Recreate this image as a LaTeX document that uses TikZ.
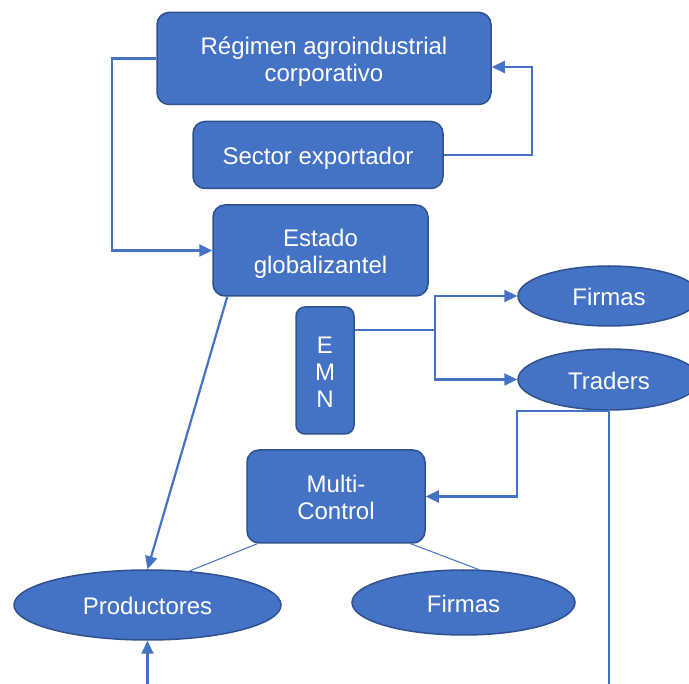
\documentclass[tikz,border=0pt]{standalone}
\usepackage{fontspec}
\setmainfont{Liberation Sans}
\usetikzlibrary{arrows.meta,shapes.geometric}
\definecolor{boxfill}{HTML}{4472C4}
\definecolor{boxline}{HTML}{2F528F}
% centred label block, lowered slightly inside its shape
\newcommand{\lbl}[1]{\raisebox{-10.5pt}[0pt][0pt]{\begin{tabular}{@{}c@{}}#1\end{tabular}}}
\begin{document}
\begin{tikzpicture}[x=1pt,y=-1pt,
  base/.style={fill=boxfill,draw=boxline,line width=1.5pt,text=white,inner sep=0pt,
    font=\fontsize{24}{27}\selectfont},
  box/.style={base,rectangle,rounded corners=12pt},
  oval/.style={base,ellipse},
  conn/.style={draw=boxfill,line width=2.2pt},
  arr/.style={conn,-{Triangle[length=13pt,width=12pt]}},
  thin/.style={draw=boxfill,line width=1pt}]
\clip (0,0) rectangle (689,684);
\fill[white] (0,0) rectangle (689,684);

% boxes
\node[box,minimum width=334pt,minimum height=92pt] (reg) at (324,58.5) {\lbl{Régimen agroindustrial\\corporativo}};
\node[box,minimum width=250pt,minimum height=67pt] (sec) at (318,155) {\lbl{Sector exportador}};
\node[box,minimum width=215pt,minimum height=91pt] (est) at (320.5,250.5) {\lbl{Estado\\globalizantel}};
\node[box,minimum width=58pt,minimum height=127pt,rounded corners=9pt] (emn) at (325,370.5) {\lbl{E\\M\\N}};
\node[box,minimum width=178pt,minimum height=93pt] (mc) at (336,496.5) {\lbl{Multi-\\Control}};

% ellipses
\node[oval,minimum width=182pt,minimum height=60pt] (f1) at (609,296) {\lbl{Firmas}};
\node[oval,minimum width=182pt,minimum height=61pt] (tr) at (609,379.5) {\lbl{Traders}};
\node[oval,minimum width=267pt,minimum height=70pt] (prod) at (147.5,605) {\lbl{Productores}};
\node[oval,minimum width=223pt,minimum height=65pt] (f2) at (463.5,602.5) {\lbl{Firmas}};

% helper coordinates
\coordinate (lx) at (112,0);
\coordinate (rx) at (532,0);
\coordinate (j) at (435,330);
\coordinate (kx) at (517,0);
\coordinate (bot1) at (147.5,684);
\coordinate (bot2) at (609,684);

% connectors
\draw[arr] (reg.west) -| (lx |- est.west) -- (est.west);
\draw[arr] (sec.east) -| (rx |- 0,67) -- (reg.east |- 0,67);
\draw[conn] (emn.east |- j) -- (j);
\draw[arr] (j) |- (f1.west);
\draw[arr] (j) |- (tr.west);
\draw[arr] (tr.south) -| (kx |- mc.east) -- (mc.east);
\draw[conn] (tr.south) -- (bot2);
\draw[arr] ([xshift=15pt]est.south west) -- (prod.north);
\draw[thin] ([xshift=11pt]mc.south west) -- (prod.39);
\draw[thin] ([xshift=-15pt]mc.south east) -- (f2.65);
\draw[arr] (bot1) -- (prod.south);
\end{tikzpicture}
\end{document}
